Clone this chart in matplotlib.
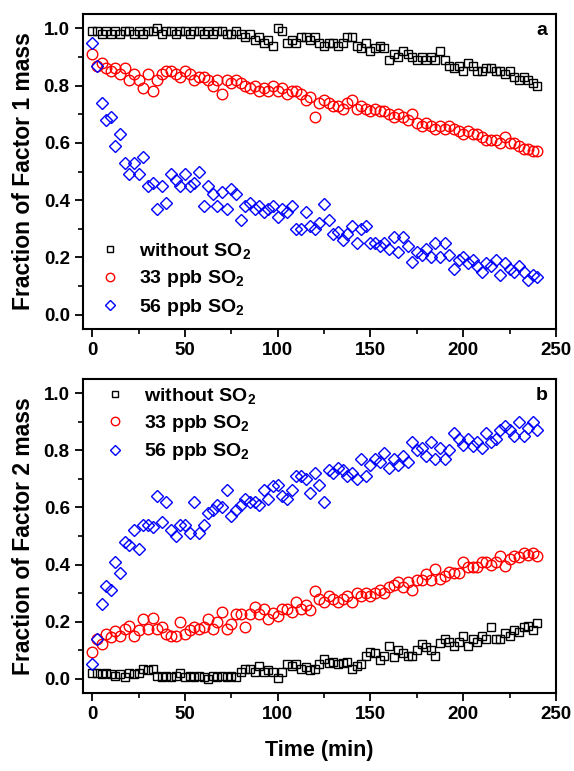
import numpy as np
import matplotlib
matplotlib.use("Agg")
import matplotlib.pyplot as plt
from matplotlib.ticker import MultipleLocator

plt.rcParams["font.family"] = ["Liberation Sans", "DejaVu Sans"]
plt.rcParams["font.weight"] = "bold"
plt.rcParams["mathtext.fontset"] = "custom"
plt.rcParams["mathtext.rm"] = "Liberation Sans:bold"
plt.rcParams["mathtext.it"] = "Liberation Sans:bold"
plt.rcParams["mathtext.bf"] = "Liberation Sans:bold"

# sampling grid (min)
time_min = np.arange(0, 242.5, 2.5)

# Factor 1 mass fraction
f1_none = [
    0.99, 0.99, 0.98, 0.99, 0.98, 0.99, 0.98, 0.99, 0.99, 0.98,
    0.99, 0.98, 0.99, 0.99, 1.00, 0.98, 0.99, 0.99, 0.98, 0.99,
    0.99, 0.98, 0.99, 0.99, 0.98, 0.99, 0.98, 0.99, 0.99, 0.98,
    0.98, 0.99, 0.98, 0.97, 0.98, 0.96, 0.97, 0.95, 0.96, 0.94,
    1.00, 0.99, 0.95, 0.96, 0.95, 0.97, 0.97, 0.96, 0.97, 0.95,
    0.94, 0.95, 0.95, 0.94, 0.95, 0.97, 0.97, 0.94, 0.93, 0.95,
    0.92, 0.93, 0.94, 0.93, 0.89, 0.91, 0.90, 0.92, 0.91, 0.90,
    0.89, 0.90, 0.89, 0.90, 0.89, 0.92, 0.89, 0.87, 0.86, 0.87,
    0.85, 0.88, 0.87, 0.85, 0.85, 0.86, 0.86, 0.85, 0.85, 0.84,
    0.85, 0.83, 0.82, 0.83, 0.82, 0.81, 0.80,
]
f1_33 = [
    0.91, 0.87, 0.88, 0.86, 0.85, 0.86, 0.84, 0.86, 0.82, 0.84,
    0.82, 0.79, 0.84, 0.78, 0.82, 0.84, 0.85, 0.85, 0.84, 0.83,
    0.85, 0.84, 0.82, 0.83, 0.83, 0.82, 0.80, 0.82, 0.77, 0.82,
    0.81, 0.82, 0.81, 0.80, 0.79, 0.80, 0.78, 0.79, 0.78, 0.80,
    0.78, 0.79, 0.77, 0.78, 0.78, 0.77, 0.75, 0.76, 0.69, 0.74,
    0.75, 0.74, 0.73, 0.73, 0.72, 0.74, 0.75, 0.72, 0.73, 0.72,
    0.71, 0.72, 0.71, 0.71, 0.70, 0.69, 0.70, 0.69, 0.68, 0.70,
    0.67, 0.66, 0.67, 0.66, 0.65, 0.66, 0.65, 0.66, 0.65, 0.64,
    0.63, 0.64, 0.63, 0.63, 0.62, 0.61, 0.61, 0.61, 0.60, 0.62,
    0.60, 0.60, 0.59, 0.58, 0.58, 0.57, 0.57,
]
f1_56 = [
    0.95, 0.87, 0.74, 0.68, 0.69, 0.59, 0.63, 0.53, 0.49, 0.53,
    0.49, 0.55, 0.45, 0.46, 0.37, 0.45, 0.39, 0.49, 0.47, 0.45,
    0.49, 0.45, 0.46, 0.50, 0.38, 0.45, 0.42, 0.38, 0.43, 0.37,
    0.44, 0.42, 0.33, 0.38, 0.39, 0.37, 0.38, 0.36, 0.37, 0.38,
    0.34, 0.37, 0.36, 0.38, 0.30, 0.30, 0.36, 0.31, 0.30, 0.32,
    0.385, 0.33, 0.28, 0.29, 0.26, 0.28, 0.31, 0.25, 0.30, 0.31,
    0.25, 0.25, 0.24, 0.25, 0.23, 0.27, 0.22, 0.27, 0.24, 0.185,
    0.22, 0.21, 0.23, 0.20, 0.25, 0.20, 0.25, 0.21, 0.16, 0.19,
    0.20, 0.18, 0.19, 0.17, 0.15, 0.18, 0.17, 0.19, 0.14, 0.18,
    0.16, 0.15, 0.17, 0.15, 0.12, 0.14, 0.13,
]

# Factor 2 mass fraction
f2_none = [
    0.02, 0.02, 0.015, 0.02, 0.015, 0.01, 0.015, 0.007, 0.02, 0.015,
    0.02, 0.035, 0.03, 0.035, 0.01, 0.005, 0.01, 0.005, 0.01, 0.02,
    0.005, 0.01, 0.005, 0.01, 0.005, 0.0, 0.01, 0.005, 0.01, 0.005,
    0.01, 0.005, 0.025, 0.035, 0.035, 0.025, 0.045, 0.025, 0.03, 0.025,
    0.003, 0.025, 0.05, 0.045, 0.05, 0.035, 0.04, 0.03, 0.035, 0.05,
    0.07, 0.055, 0.06, 0.05, 0.055, 0.06, 0.035, 0.045, 0.05, 0.08,
    0.095, 0.09, 0.065, 0.08, 0.115, 0.075, 0.10, 0.09, 0.08, 0.08,
    0.10, 0.12, 0.11, 0.10, 0.08, 0.125, 0.14, 0.13, 0.115, 0.13,
    0.15, 0.115, 0.14, 0.13, 0.15, 0.14, 0.18, 0.14, 0.14, 0.16,
    0.15, 0.17, 0.165, 0.18, 0.185, 0.17, 0.195,
]
f2_33 = [
    0.095, 0.14, 0.12, 0.155, 0.145, 0.167, 0.15, 0.175, 0.185, 0.15,
    0.17, 0.21, 0.175, 0.213, 0.175, 0.18, 0.157, 0.15, 0.15, 0.20,
    0.155, 0.17, 0.18, 0.175, 0.18, 0.21, 0.175, 0.20, 0.234, 0.175,
    0.19, 0.227, 0.227, 0.18, 0.227, 0.25, 0.227, 0.245, 0.21, 0.23,
    0.22, 0.245, 0.245, 0.235, 0.27, 0.245, 0.257, 0.24, 0.307, 0.28,
    0.27, 0.29, 0.28, 0.27, 0.28, 0.29, 0.27, 0.30, 0.29, 0.30,
    0.29, 0.30, 0.31, 0.30, 0.32, 0.33, 0.34, 0.32, 0.34, 0.31,
    0.345, 0.345, 0.367, 0.345, 0.385, 0.35, 0.36, 0.375, 0.37, 0.37,
    0.41, 0.39, 0.39, 0.39, 0.41, 0.41, 0.40, 0.41, 0.43, 0.395,
    0.42, 0.43, 0.425, 0.44, 0.435, 0.44, 0.43,
]
f2_56 = [
    0.052, 0.14, 0.26, 0.325, 0.31, 0.41, 0.37, 0.48, 0.47, 0.52,
    0.455, 0.54, 0.54, 0.53, 0.64, 0.55, 0.62, 0.52, 0.50, 0.54,
    0.54, 0.51, 0.62, 0.51, 0.54, 0.58, 0.59, 0.61, 0.60, 0.66,
    0.57, 0.59, 0.61, 0.63, 0.62, 0.62, 0.61, 0.66, 0.63, 0.675,
    0.68, 0.64, 0.63, 0.66, 0.71, 0.71, 0.70, 0.65, 0.72, 0.68,
    0.62, 0.73, 0.72, 0.74, 0.73, 0.71, 0.72, 0.70, 0.77, 0.71,
    0.75, 0.77, 0.76, 0.79, 0.74, 0.77, 0.75, 0.78, 0.76, 0.83,
    0.80, 0.81, 0.78, 0.83, 0.77, 0.81, 0.77, 0.80, 0.86, 0.84,
    0.82, 0.84, 0.815, 0.83, 0.81, 0.86, 0.83, 0.84, 0.87, 0.885,
    0.87, 0.85, 0.90, 0.85, 0.88, 0.90, 0.87,
]

labels = ["without SO$_2$", "33 ppb SO$_2$", "56 ppb SO$_2$"]
styles = [("s", "black", 6.2), ("o", "red", 7.6), ("D", "blue", 6.6)]


def draw_panel(ax, series, ylabel, letter, legend_kw):
    handles = []
    for vals, lab, (mk, col, ms) in zip(series, labels, styles):
        h, = ax.plot(time_min, vals, linestyle="none", marker=mk, ms=ms,
                     mfc="none", mec=col, mew=1.0, label=lab)
        handles.append(h)
    ax.set_xlim(-5, 250)
    ax.set_ylim(-0.05, 1.05)
    ax.xaxis.set_major_locator(MultipleLocator(50))
    ax.xaxis.set_minor_locator(MultipleLocator(25))
    ax.yaxis.set_major_locator(MultipleLocator(0.2))
    ax.yaxis.set_minor_locator(MultipleLocator(0.1))
    ax.tick_params(which="major", direction="out", length=6, width=1.3,
                   labelsize=13.5, top=False, right=False)
    ax.tick_params(which="minor", direction="out", length=3.5, width=1.2,
                   top=False, right=False)
    for sp in ax.spines.values():
        sp.set_linewidth(1.5)
    ax.set_ylabel(ylabel, fontsize=16.5, fontweight="bold", labelpad=6)
    ax.text(0.982, 0.975, letter, transform=ax.transAxes, ha="right",
            va="top", fontsize=14, fontweight="bold")
    leg = ax.legend(handles=handles, frameon=False, fontsize=14,
                    markerscale=0.8, handlelength=1.0, handletextpad=1.0,
                    labelspacing=0.38, **legend_kw)
    return leg


fig = plt.figure(figsize=(5.74, 7.71), dpi=100)
ax1 = fig.add_axes([0.1446, 0.5733, 0.824, 0.4085])
ax2 = fig.add_axes([0.1446, 0.1012, 0.824, 0.4072])

draw_panel(ax1, [f1_none, f1_33, f1_56], "Fraction of Factor 1 mass", "a",
           dict(loc="lower left", bbox_to_anchor=(0.0, -0.02)))
draw_panel(ax2, [f2_none, f2_33, f2_56], "Fraction of Factor 2 mass", "b",
           dict(loc="upper left", bbox_to_anchor=(0.01, 1.035)))
ax2.set_xlabel("Time (min)", fontsize=15.5, fontweight="bold", labelpad=12)

fig.savefig("out.png", dpi=100)
